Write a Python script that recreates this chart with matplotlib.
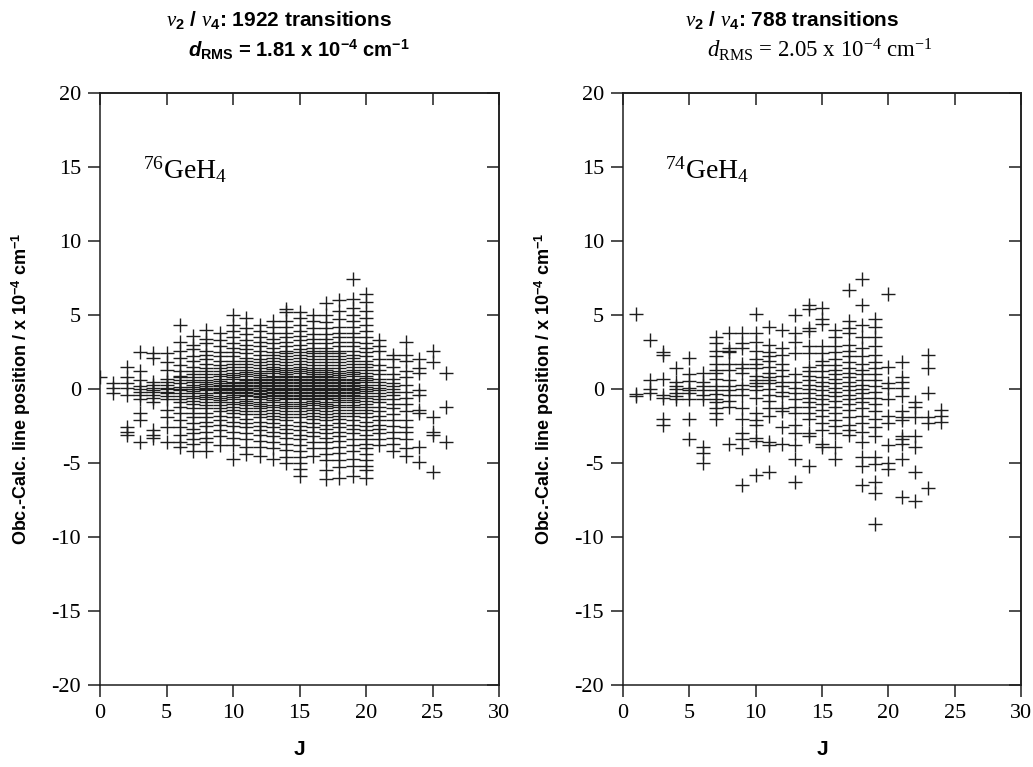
import matplotlib
matplotlib.use('Agg')
import matplotlib.pyplot as plt

plt.rcParams['mathtext.fontset'] = 'custom'
plt.rcParams['mathtext.rm'] = 'Liberation Sans:bold'
plt.rcParams['mathtext.bf'] = 'Liberation Sans:bold'
plt.rcParams['mathtext.it'] = 'Liberation Serif:italic'
plt.rcParams['mathtext.sf'] = 'Liberation Serif'
plt.rcParams['mathtext.cal'] = 'Liberation Sans:bold:italic'

## Data: residuals (x 1e-4 cm-1) read per J value

left_J = list(range(0, 27))
left_dy = [
    [0.8],
    [0.4, 0.05, -0.3],
    [1.5, 0.8, 0.4, 0.05, -0.4, -2.6, -2.9, -3.1],
    [2.5, 1.2, 0.6, 0.2, 0.0, -0.2, -0.4, -0.7, -1.6, -2.1, -3.6],
    [2.4, 2.1, 0.5, 0.3, 0.1, -0.1, -0.2, -0.4, -0.6, -0.9, -2.8, -3.1, -3.3],
    [2.4, 1.8, 1.3, 0.7, 0.5, 0.3, 0.1, 0.0, -0.2, -0.3, -0.5, -0.7, -1.4, -1.9, -2.6, -3.6],
    [4.3, 3.2, 2.6, 2.1, 1.6, 1.2, 0.9, 0.8, 0.6, 0.4, 0.15, 0.0, -0.1, -0.3, -0.5, -0.7, -0.9,
     -1.2, -1.6, -2.1, -2.6, -3.1, -3.6, -3.9],
    [3.6, 3.0, 2.7, 2.2, 1.9, 1.5, 1.2, 1.0, 0.8, 0.6, 0.45, 0.3, 0.15, 0.0, -0.15, -0.3, -0.45,
     -0.6, -0.8, -1.0, -1.3, -1.6, -1.9, -2.3, -2.7, -3.0, -3.4, -3.7, -4.2],
    [4.0, 3.4, 3.1, 2.6, 2.3, 2.0, 1.7, 1.4, 1.2, 1.0, 0.8, 0.6, 0.5, 0.35, 0.2, 0.1, 0.0, -0.1,
     -0.25, -0.4, -0.55, -0.7, -0.9, -1.1, -1.3, -1.6, -1.9, -2.2, -2.5, -2.9, -3.3, -3.6, -4.2],
    [3.8, 3.3, 2.9, 2.5, 2.2, 1.9, 1.6, 1.4, 1.2, 1.0, 0.85, 0.7, 0.55, 0.4, 0.3, 0.2, 0.1, 0.0,
     -0.1, -0.2, -0.3, -0.45, -0.6, -0.75, -0.9, -1.1, -1.3, -1.5, -1.8, -2.1, -2.4, -2.8, -3.2, -3.8],
    [5.0, 4.3, 3.9, 3.5, 3.1, 2.8, 2.5, 2.2, 1.9, 1.7, 1.5, 1.3, 1.1, 0.95, 0.8, 0.65, 0.5, 0.4,
     0.3, 0.2, 0.1, 0.0, -0.1, -0.2, -0.3, -0.4, -0.55, -0.7, -0.85, -1.0, -1.2, -1.4, -1.6, -1.9,
     -2.2, -2.5, -2.9, -3.3, -3.8, -4.7],
    [4.8, 4.1, 3.7, 3.3, 3.0, 2.7, 2.4, 2.1, 1.9, 1.7, 1.5, 1.3, 1.15, 1.0, 0.85, 0.7, 0.6, 0.5,
     0.4, 0.3, 0.2, 0.1, 0.0, -0.1, -0.2, -0.3, -0.4, -0.5, -0.65, -0.8, -0.95, -1.1, -1.3, -1.5,
     -1.7, -2.0, -2.3, -2.6, -3.0, -3.4, -3.9, -4.4],
    [4.3, 3.9, 3.5, 3.2, 2.9, 2.6, 2.3, 2.0, 1.8, 1.6, 1.4, 1.25, 1.1, 0.95, 0.8, 0.7, 0.6, 0.5,
     0.4, 0.3, 0.2, 0.1, 0.05, -0.05, -0.15, -0.25, -0.35, -0.45, -0.55, -0.7, -0.85, -1.0, -1.15,
     -1.3, -1.5, -1.7, -1.9, -2.2, -2.5, -2.8, -3.1, -3.5, -3.9, -4.5],
    [4.6, 4.2, 3.8, 3.4, 3.1, 2.8, 2.5, 2.3, 2.1, 1.9, 1.7, 1.5, 1.35, 1.2, 1.05, 0.9, 0.8, 0.7,
     0.6, 0.5, 0.4, 0.3, 0.2, 0.1, 0.0, -0.1, -0.2, -0.3, -0.4, -0.5, -0.6, -0.75, -0.9, -1.05,
     -1.2, -1.4, -1.6, -1.8, -2.0, -2.3, -2.6, -2.9, -3.2, -3.6, -4.0, -4.7],
    [5.4, 5.2, 4.6, 4.2, 3.8, 3.5, 3.2, 2.9, 2.6, 2.4, 2.2, 2.0, 1.8, 1.6, 1.45, 1.3, 1.15, 1.0,
     0.9, 0.8, 0.7, 0.6, 0.5, 0.4, 0.3, 0.2, 0.1, 0.0, -0.1, -0.2, -0.3, -0.4, -0.5, -0.6, -0.7,
     -0.85, -1.0, -1.15, -1.3, -1.5, -1.7, -1.9, -2.1, -2.4, -2.7, -3.0, -3.3, -3.7, -4.1, -4.6, -5.0],
    [5.2, 4.8, 4.3, 3.9, 3.6, 3.3, 3.0, 2.7, 2.5, 2.3, 2.1, 1.9, 1.7, 1.5, 1.35, 1.2, 1.05, 0.9,
     0.8, 0.7, 0.6, 0.5, 0.4, 0.3, 0.2, 0.1, 0.0, -0.1, -0.2, -0.3, -0.4, -0.5, -0.6, -0.7, -0.85,
     -1.0, -1.15, -1.3, -1.5, -1.7, -1.9, -2.2, -2.5, -2.8, -3.1, -3.4, -3.8, -4.2, -4.6, -5.0,
     -5.4, -5.9],
    [5.0, 4.6, 4.1, 3.7, 3.4, 3.1, 2.8, 2.6, 2.4, 2.2, 2.0, 1.8, 1.6, 1.45, 1.3, 1.15, 1.0, 0.9,
     0.8, 0.7, 0.6, 0.5, 0.4, 0.3, 0.2, 0.1, 0.0, -0.1, -0.2, -0.3, -0.4, -0.5, -0.6, -0.7, -0.8,
     -0.95, -1.1, -1.25, -1.4, -1.6, -1.8, -2.0, -2.3, -2.6, -2.9, -3.2, -3.6, -4.0, -4.5],
    [5.8, 5.0, 4.5, 4.1, 3.7, 3.4, 3.1, 2.8, 2.6, 2.4, 2.2, 2.0, 1.8, 1.6, 1.45, 1.3, 1.15, 1.0,
     0.9, 0.8, 0.7, 0.6, 0.5, 0.4, 0.3, 0.2, 0.1, 0.0, -0.1, -0.2, -0.3, -0.4, -0.5, -0.6, -0.7,
     -0.85, -1.0, -1.15, -1.3, -1.5, -1.7, -1.9, -2.1, -2.4, -2.7, -3.0, -3.3, -3.6, -4.0, -4.4,
     -4.8, -5.5, -6.1],
    [6.0, 5.3, 4.7, 4.2, 3.8, 3.5, 3.2, 2.9, 2.6, 2.4, 2.2, 2.0, 1.8, 1.6, 1.4, 1.25, 1.1, 0.95,
     0.8, 0.7, 0.6, 0.5, 0.4, 0.3, 0.2, 0.1, 0.0, -0.1, -0.2, -0.3, -0.4, -0.5, -0.6, -0.75, -0.9,
     -1.05, -1.2, -1.4, -1.6, -1.8, -2.0, -2.3, -2.6, -2.9, -3.2, -3.5, -3.9, -4.3, -4.8, -5.3, -6.0],
    [7.4, 6.1, 5.5, 5.0, 4.6, 4.2, 3.8, 3.5, 3.2, 2.9, 2.6, 2.3, 2.1, 1.9, 1.7, 1.5, 1.3, 1.15,
     1.0, 0.85, 0.7, 0.6, 0.5, 0.4, 0.3, 0.2, 0.1, 0.0, -0.1, -0.2, -0.3, -0.4, -0.5, -0.6, -0.75,
     -0.9, -1.05, -1.2, -1.4, -1.6, -1.8, -2.1, -2.4, -2.7, -3.0, -3.4, -3.8, -4.2, -4.7, -5.2, -5.9],
    [6.4, 5.9, 5.3, 4.8, 4.3, 3.9, 3.5, 3.1, 2.8, 2.5, 2.2, 1.9, 1.7, 1.5, 1.3, 1.1, 0.9, 0.75,
     0.6, 0.45, 0.3, 0.15, 0.0, -0.15, -0.3, -0.45, -0.6, -0.8, -1.0, -1.2, -1.4, -1.6, -1.9, -2.2,
     -2.5, -2.8, -3.1, -3.4, -3.7, -4.0, -4.4, -4.8, -5.2, -5.5, -6.0],
    [3.3, 2.9, 2.6, 2.0, 1.6, 1.3, 1.0, 0.7, 0.5, 0.3, 0.1, -0.1, -0.3, -0.5, -0.7, -0.9, -1.2,
     -1.5, -1.8, -2.1, -2.4, -2.7, -3.0, -3.4, -3.8],
    [2.3, 2.0, 1.5, 1.0, 0.7, 0.4, 0.2, 0.0, -0.2, -0.4, -0.7, -1.0, -1.3, -1.7, -2.1, -2.5, -2.9,
     -3.3, -3.7, -4.2],
    [3.2, 2.3, 1.9, 1.2, 0.8, 0.3, -0.2, -0.6, -1.0, -1.5, -2.1, -2.6, -2.9, -3.4, -4.0, -4.5],
    [2.0, 1.4, 1.1, -0.1, -0.4, -1.4, -1.6, -3.9, -4.9],
    [2.6, 1.8, -1.9, -2.9, -3.1, -5.6],
    [1.1, -1.2, -3.6],
]

right_J = list(range(1, 25))
right_dy = [
    [5.1, -0.35, -0.5],
    [3.3, 0.6, 0.0, -0.3],
    [2.5, 2.3, 0.7, -0.4, -0.6, -2.0, -2.4],
    [1.4, 0.5, 0.2, 0.0, -0.3, -0.5, -0.7],
    [2.1, 1.0, 0.55, 0.1, -0.1, -0.3, -0.7, -2.0, -3.4],
    [1.1, 0.5, 0.2, -0.1, -0.4, -0.7, -3.9, -4.3, -5.0],
    [3.5, 3.1, 2.6, 2.2, 1.7, 1.3, 1.1, 0.7, 0.2, -0.1, -0.35, -0.7, -0.9, -1.3, -1.6, -2.0],
    [3.8, 2.8, 2.6, 2.5, 1.7, 1.3, 0.6, 0.2, -0.1, -0.4, -0.8, -1.2, -3.7],
    [3.8, 3.1, 2.8, 1.7, 1.4, 1.1, 0.3, 0.0, -0.4, -1.3, -2.0, -3.0, -3.4, -4.0, -6.5],
    [5.1, 3.8, 3.2, 2.6, 2.0, 1.7, 1.4, 0.9, 0.6, 0.4, 0.2, -0.1, -0.6, -1.6, -2.1, -2.4, -3.3,
     -3.5, -5.8],
    [4.2, 3.0, 2.5, 2.2, 1.9, 1.5, 1.1, 0.8, 0.6, 0.4, 0.0, -0.4, -0.8, -1.3, -1.8, -3.6, -3.8, -5.6],
    [4.0, 2.8, 2.3, 1.7, 1.3, 0.9, 0.5, 0.2, -0.2, -0.5, -1.3, -1.5, -2.6, -3.7],
    [5.0, 3.8, 3.2, 2.4, 1.0, 0.5, 0.1, -0.3, -0.7, -1.2, -1.6, -2.4, -3.0, -3.8, -4.7, -6.3],
    [5.7, 5.4, 4.1, 3.9, 2.9, 2.4, 1.5, 1.2, 0.9, 0.6, 0.3, 0.0, -0.3, -0.6, -0.9, -1.2, -1.6,
     -2.0, -3.0, -3.2, -5.2],
    [5.5, 4.7, 4.4, 2.9, 2.4, 1.9, 1.6, 1.2, 0.8, 0.5, 0.2, -0.1, -0.4, -0.7, -1.0, -1.4, -1.8,
     -2.3, -2.8, -3.7, -3.9],
    [4.0, 3.5, 2.9, 2.5, 2.0, 1.6, 1.3, 1.0, 0.7, 0.4, 0.1, -0.2, -0.5, -0.8, -1.2, -1.6, -2.1,
     -2.5, -3.0, -3.9, -4.7],
    [6.7, 4.6, 4.1, 3.8, 3.0, 2.6, 2.2, 1.8, 1.4, 1.1, 0.8, 0.5, 0.2, -0.1, -0.4, -0.7, -1.0,
     -1.4, -1.9, -2.4, -2.8, -3.1],
    [7.4, 5.7, 4.3, 3.5, 2.8, 2.2, 1.7, 1.3, 1.0, 0.6, 0.3, 0.0, -0.3, -0.6, -0.9, -1.3, -1.8,
     -2.3, -2.9, -3.6, -4.6, -5.2, -6.5],
    [4.7, 4.2, 3.5, 2.9, 2.3, 1.8, 1.4, 1.0, 0.6, 0.2, -0.2, -0.6, -1.0, -1.5, -2.0, -2.6, -3.2,
     -4.6, -5.1, -6.3, -7.0, -9.1],
    [6.4, 1.5, 0.4, 0.05, -0.7, -1.8, -2.3, -3.8, -5.0, -5.4],
    [1.8, 0.8, 0.5, 0.05, -0.5, -1.5, -1.9, -2.1, -3.2, -3.4, -3.7, -4.7, -7.3],
    [-0.9, -1.2, -1.9, -3.2, -3.9, -5.6, -7.6],
    [2.3, 1.4, -0.3, -1.9, -2.3, -6.7],
    [-1.4, -1.8, -2.2],
]

W, H = 1033, 767
fig = plt.figure(figsize=(W / 100, H / 100), dpi=100)

ink = '#1e1e1e'
serif = 'Liberation Serif'
sans = 'Liberation Sans'
tick_len = 8.6


def draw_panel(ax, J_list, dy_list, isotope_label):
    xs, ys = [], []
    for J, vals in zip(J_list, dy_list):
        for v in vals:
            xs.append(J)
            ys.append(v)
    ax.plot(xs, ys, '+', color=ink, ms=9.5, mew=1.0)

    ax.set_xlim(0, 30)
    ax.set_ylim(-20, 20)
    ax.set_xticks(range(0, 31, 5))
    ax.set_yticks(range(-20, 21, 5))
    ax.set_yticklabels([str(v) for v in range(-20, 21, 5)])
    ax.tick_params(direction='out', length=tick_len, width=1.1, color=ink, labelsize=16, pad=5,
                   top=False, right=False)
    for lab in ax.get_xticklabels() + ax.get_yticklabels():
        lab.set_fontfamily(serif)
    for sp in ax.spines.values():
        sp.set_linewidth(1.1)
        sp.set_color(ink)

    # inward ticks on top and right sides
    top = ax.secondary_xaxis('top')
    top.set_xticks(range(0, 31, 5))
    top.tick_params(direction='in', length=tick_len, width=1.1, color=ink, labeltop=False)
    right = ax.secondary_yaxis('right')
    right.set_yticks(range(-20, 21, 5))
    right.tick_params(direction='in', length=tick_len, width=1.1, color=ink, labelright=False)
    for sec in (top, right):
        for sp in sec.spines.values():
            sp.set_linewidth(1.1)
            sp.set_color(ink)

    ax.set_xlabel('J', fontfamily=sans, fontweight='bold', fontsize=15, labelpad=12)
    ax.set_ylabel(r'Obc.-Calc. line position / x 10$^{\mathrm{-4}}$ cm$^{\mathrm{-1}}$',
                  fontfamily=sans, fontweight='bold', fontsize=13, labelpad=13)
    ax.text(3.2, 14.8, isotope_label, fontfamily=serif, fontsize=20, va='center', ha='left')


ax1 = fig.add_axes([100 / W, 1 - 685 / H, 399 / W, 592 / H])
ax2 = fig.add_axes([623 / W, 1 - 685 / H, 398 / W, 592 / H])

draw_panel(ax1, left_J, left_dy, r'$^{\mathsf{76}}$GeH$_{\mathsf{4}}$')
draw_panel(ax2, right_J, right_dy, r'$^{\mathsf{74}}$GeH$_{\mathsf{4}}$')

fig.text(279 / W, 1 - 20 / H, r'$\nu_{\mathrm{2}}$ / $\nu_{\mathrm{4}}$: 1922 transitions',
         ha='center', va='center', fontfamily=sans, fontweight='bold', fontsize=15)
fig.text(299 / W, 1 - 50 / H,
         r'$\mathcal{d}_{\mathrm{RMS}}$ = 1.81 x 10$^{\mathrm{-4}}$ cm$^{\mathrm{-1}}$',
         ha='center', va='center', fontfamily=sans, fontweight='bold', fontsize=14.6)
fig.text(792 / W, 1 - 20 / H, r'$\nu_{\mathrm{2}}$ / $\nu_{\mathrm{4}}$: 788 transitions',
         ha='center', va='center', fontfamily=sans, fontweight='bold', fontsize=15)
fig.text(820 / W, 1 - 50 / H,
         r'$\mathit{d}_{\mathsf{RMS}}$ = 2.05 x 10$^{\mathsf{-4}}$ cm$^{\mathsf{-1}}$',
         ha='center', va='center', fontfamily=serif, fontsize=16.5)

fig.savefig('out.png', dpi=100)
